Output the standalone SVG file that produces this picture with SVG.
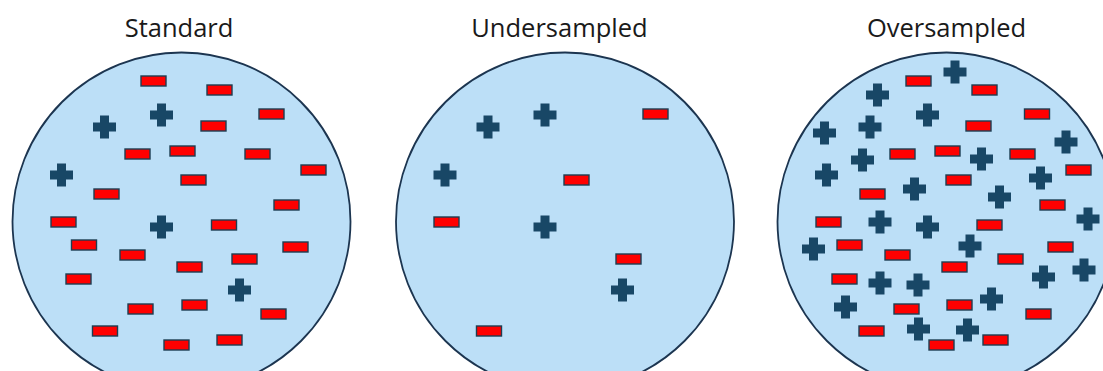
<svg xmlns="http://www.w3.org/2000/svg" xmlns:xlink="http://www.w3.org/1999/xlink" width="1103" height="371" viewBox="0 0 1103 371">
  <style>
    .title { font-family: "Open Sans", "Liberation Sans", sans-serif; font-size: 25.5px; fill: #1a1a1a; text-anchor: middle; }
    .pool { fill: #bcdff7; stroke: #1c3550; stroke-width: 1.8; }
  </style>
  <defs>
    <!-- negative sample: red bar -->
    <rect id="minus" x="-12.5" y="-5" width="25" height="10" fill="#ff0000" stroke="#1d3d52" stroke-width="1.4"/>
    <!-- positive sample: dark blue cross -->
    <path id="plus" d="M-4.5,-11.5 h9 v7 h7 v9 h-7 v7 h-9 v-7 h-7 v-9 h7 z" fill="#184766"/>
  </defs>
  <rect width="1103" height="371" fill="#ffffff"/>

  <!-- Standard sample -->
  <g id="panel-standard">
    <text class="title" x="179" y="37">Standard</text>
    <circle class="pool" cx="181.5" cy="221.5" r="169"/>
    <g id="standard-negatives">
      <use href="#minus" x="153.5" y="81"/>
      <use href="#minus" x="219.5" y="90"/>
      <use href="#minus" x="271.5" y="114"/>
      <use href="#minus" x="213.5" y="126"/>
      <use href="#minus" x="137.5" y="154"/>
      <use href="#minus" x="182.5" y="151"/>
      <use href="#minus" x="257.5" y="154"/>
      <use href="#minus" x="313.5" y="170"/>
      <use href="#minus" x="193.5" y="180"/>
      <use href="#minus" x="106.5" y="194"/>
      <use href="#minus" x="286.5" y="205"/>
      <use href="#minus" x="63.5" y="222"/>
      <use href="#minus" x="224" y="225"/>
      <use href="#minus" x="84" y="245"/>
      <use href="#minus" x="295.5" y="247"/>
      <use href="#minus" x="132.5" y="255"/>
      <use href="#minus" x="244.5" y="259"/>
      <use href="#minus" x="189.5" y="267"/>
      <use href="#minus" x="78.5" y="279"/>
      <use href="#minus" x="194.5" y="305"/>
      <use href="#minus" x="140.5" y="309"/>
      <use href="#minus" x="273.5" y="314"/>
      <use href="#minus" x="105" y="331"/>
      <use href="#minus" x="229.5" y="340"/>
      <use href="#minus" x="176.5" y="345"/>
    </g>
    <g id="standard-positives">
      <use href="#plus" x="161.5" y="115"/>
      <use href="#plus" x="104.5" y="127"/>
      <use href="#plus" x="61.5" y="175"/>
      <use href="#plus" x="161.5" y="227"/>
      <use href="#plus" x="239.5" y="290"/>
    </g>
  </g>

  <!-- Undersampled: majority class reduced -->
  <g id="panel-undersampled">
    <text class="title" x="559.5" y="37">Undersampled</text>
    <circle class="pool" cx="565" cy="221.5" r="169"/>
    <g id="under-negatives">
      <use href="#minus" x="655.5" y="114"/>
      <use href="#minus" x="576.5" y="180"/>
      <use href="#minus" x="446.5" y="222"/>
      <use href="#minus" x="628.5" y="259"/>
      <use href="#minus" x="489" y="331"/>
    </g>
    <g id="under-positives">
      <use href="#plus" x="545" y="115"/>
      <use href="#plus" x="488" y="127"/>
      <use href="#plus" x="445" y="175"/>
      <use href="#plus" x="545" y="227"/>
      <use href="#plus" x="622.5" y="290"/>
    </g>
  </g>

  <!-- Oversampled: minority class replicated -->
  <g id="panel-oversampled">
    <text class="title" x="946.5" y="37">Oversampled</text>
    <circle class="pool" cx="946.5" cy="221.5" r="169"/>
    <g id="over-negatives">
      <use href="#minus" x="918.5" y="81"/>
      <use href="#minus" x="984.5" y="90"/>
      <use href="#minus" x="1037" y="114"/>
      <use href="#minus" x="978.5" y="126"/>
      <use href="#minus" x="902.5" y="154"/>
      <use href="#minus" x="947.5" y="151"/>
      <use href="#minus" x="1022.5" y="154"/>
      <use href="#minus" x="1078.5" y="170"/>
      <use href="#minus" x="958.5" y="180"/>
      <use href="#minus" x="872.5" y="194"/>
      <use href="#minus" x="1052.5" y="205"/>
      <use href="#minus" x="828.5" y="222"/>
      <use href="#minus" x="989.5" y="225"/>
      <use href="#minus" x="849.5" y="245"/>
      <use href="#minus" x="1060.5" y="247"/>
      <use href="#minus" x="897.5" y="255"/>
      <use href="#minus" x="1010.5" y="259"/>
      <use href="#minus" x="954.5" y="267"/>
      <use href="#minus" x="844.5" y="279"/>
      <use href="#minus" x="959.5" y="305"/>
      <use href="#minus" x="906.5" y="309"/>
      <use href="#minus" x="1038.5" y="314"/>
      <use href="#minus" x="871.5" y="331"/>
      <use href="#minus" x="995.5" y="340"/>
      <use href="#minus" x="941.5" y="345"/>
    </g>
    <g id="over-positives">
      <use href="#plus" x="955" y="72"/>
      <use href="#plus" x="877.5" y="95"/>
      <use href="#plus" x="927.5" y="115"/>
      <use href="#plus" x="824.5" y="133"/>
      <use href="#plus" x="870" y="127"/>
      <use href="#plus" x="1066" y="142"/>
      <use href="#plus" x="862.5" y="160"/>
      <use href="#plus" x="981.5" y="159"/>
      <use href="#plus" x="826.5" y="175"/>
      <use href="#plus" x="1040.5" y="178"/>
      <use href="#plus" x="914.5" y="189"/>
      <use href="#plus" x="999.5" y="197"/>
      <use href="#plus" x="1088" y="219"/>
      <use href="#plus" x="880" y="222"/>
      <use href="#plus" x="927.5" y="227"/>
      <use href="#plus" x="970" y="246"/>
      <use href="#plus" x="813.5" y="249"/>
      <use href="#plus" x="1084" y="270"/>
      <use href="#plus" x="1043.5" y="277"/>
      <use href="#plus" x="880" y="283"/>
      <use href="#plus" x="918" y="285"/>
      <use href="#plus" x="991.5" y="299"/>
      <use href="#plus" x="845.5" y="307"/>
      <use href="#plus" x="918.5" y="329"/>
      <use href="#plus" x="967.5" y="330"/>
    </g>
  </g>
</svg>
